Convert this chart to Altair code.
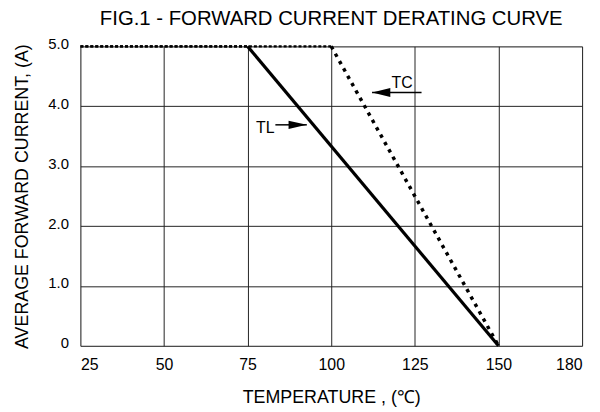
import altair as alt
import pandas as pd

# ---- data ----
curve_names = ["TL", "TC"]
temp_tl = [25, 75, 150]
amp_tl = [5.0, 5.0, 0.0]
temp_tc = [25, 100, 150]
amp_tc = [5.0, 5.0, 0.0]

x_ticks = [25, 50, 75, 100, 125, 150, 175]
x_tick_labels = ["25", "50", "75", "100", "125", "150", "180"]
y_ticks = [0, 1, 2, 3, 4, 5]
y_tick_labels = ["0", "1.0", "2.0", "3.0", "4.0", "5.0"]

label_x = [80.3, 121.2]
label_y = [3.64, 4.39]
arrow_start = [83.3, 127.0]
arrow_tip = [92.7, 112.2]
arrow_y = [3.69, 4.23]

FONT = "Liberation Sans"

# ---- build tables ----
def segments(name, xs, ys):
    rows = []
    for i in range(len(xs) - 1):
        kind = "plateau" if ys[i] == ys[i + 1] else name
        rows.append(dict(curve=name, kind=kind, x=xs[i], y=ys[i], x2=xs[i + 1], y2=ys[i + 1]))
    return rows

seg = pd.DataFrame(segments("TL", temp_tl, amp_tl) + segments("TC", temp_tc, amp_tc))

ann = pd.DataFrame({
    "name": curve_names,
    "lx": label_x,
    "ly": label_y,
    "ax": arrow_start,
    "ax2": arrow_tip,
    "ay": arrow_y,
})
ann["head"] = [
    "M0,0 L-2,-0.45 L-2,0.45 Z" if t > s else "M0,0 L2,-0.5 L2,0.5 Z"
    for s, t in zip(arrow_start, arrow_tip)
]

def label_expr(values, labels):
    expr = "''"
    for v, l in zip(reversed(values), reversed(labels)):
        expr = f"datum.value == {v} ? '{l}' : ({expr})"
    return expr

xscale = alt.Scale(domain=[x_ticks[0], x_ticks[-1]], nice=False, zero=False)
yscale = alt.Scale(domain=[y_ticks[0], y_ticks[-1]], nice=False, zero=False)

xaxis = alt.Axis(
    values=x_ticks, labelExpr=label_expr(x_ticks, x_tick_labels),
    title="TEMPERATURE , (℃)", grid=True, ticks=False, domain=False,
    labelFontSize=16, titleFontSize=18, labelPadding=11, titlePadding=16,
    labelFont=FONT, titleFont=FONT, titleFontWeight="normal",
    labelColor="#000", titleColor="#000", gridColor="#222", gridWidth=1,
)
yaxis = alt.Axis(
    values=y_ticks, labelExpr=label_expr(y_ticks, y_tick_labels),
    title="AVERAGE FORWARD CURRENT, (A)", grid=True, ticks=False, domain=False,
    labelFontSize=15, titleFontSize=18, labelPadding=12, titlePadding=16,
    labelFont=FONT, titleFont=FONT, titleFontWeight="normal",
    labelColor="#000", titleColor="#000", gridColor="#222", gridWidth=1,
    labelOffset=-3,
)

base = alt.Chart(seg)

grid = alt.Chart(pd.DataFrame({"x": x_ticks})).mark_rule(opacity=0).encode(
    x=alt.X("x:Q", scale=xscale, axis=xaxis),
    y=alt.Y("y:Q", scale=yscale, axis=yaxis),
).transform_calculate(y="0")

plateau = base.transform_filter("datum.kind == 'plateau'").mark_rule(
    color="#000", strokeWidth=2.5, strokeDash=[3, 2]
).encode(x=alt.X("x:Q", scale=xscale), y=alt.Y("y:Q", scale=yscale), x2="x2:Q", y2="y2:Q")

tl = base.transform_filter("datum.kind == 'TL'").mark_rule(
    color="#000", strokeWidth=3.2
).encode(x=alt.X("x:Q", scale=xscale), y=alt.Y("y:Q", scale=yscale), x2="x2:Q", y2="y2:Q")

tc = base.transform_filter("datum.kind == 'TC'").mark_rule(
    color="#000", strokeWidth=3.5, strokeDash=[3.5, 5]
).encode(x=alt.X("x:Q", scale=xscale), y=alt.Y("y:Q", scale=yscale), x2="x2:Q", y2="y2:Q")

abase = alt.Chart(ann)
arrow_line = abase.mark_rule(color="#000", strokeWidth=1.5).encode(
    x=alt.X("ax:Q", scale=xscale), x2="ax2:Q", y=alt.Y("ay:Q", scale=yscale)
)
arrow_head = abase.mark_point(filled=True, color="#000", opacity=1, size=340, strokeWidth=0).encode(
    x=alt.X("ax2:Q", scale=xscale), y=alt.Y("ay:Q", scale=yscale),
    shape=alt.Shape("head:N", scale=None),
)
labels = abase.mark_text(font=FONT, fontSize=16, color="#000", baseline="middle", align="center").encode(
    x=alt.X("lx:Q", scale=xscale), y=alt.Y("ly:Q", scale=yscale), text="name:N"
)

chart = alt.layer(grid, plateau, tl, tc, arrow_line, arrow_head, labels).properties(
    width=506, height=302,
    autosize=alt.AutoSizeParams(type="none"),
    padding={"left": 73, "top": 37, "right": 10, "bottom": 60},
    title=alt.Title("FIG.1 - FORWARD CURRENT DERATING CURVE", font=FONT, fontSize=20.5,
                    fontWeight="normal", color="#000", anchor="middle", offset=7),
).configure_view(stroke="#000", strokeWidth=1.2).configure(background="#ffffff")

chart.save("out.html", embed_options={"renderer": "svg", "actions": False})
